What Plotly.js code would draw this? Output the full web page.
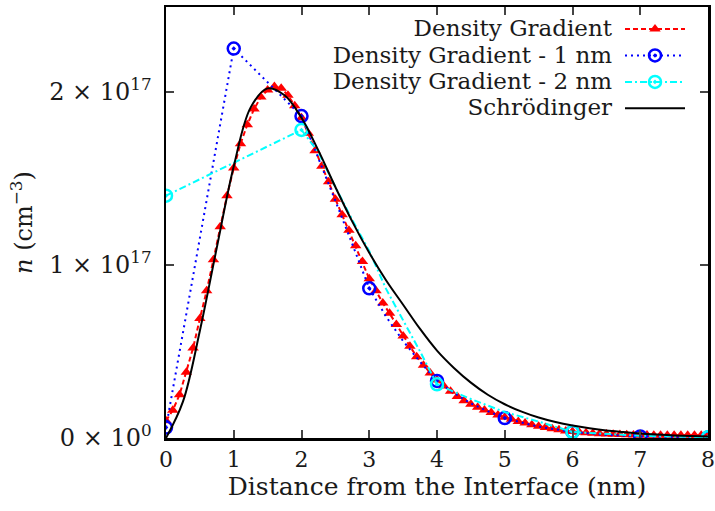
<!DOCTYPE html>
<html><head><meta charset="utf-8">
<script src="https://cdn.plot.ly/plotly-3.0.1.min.js"></script>
<style>html,body{margin:0;padding:0;background:#fff}#chart{width:715px;height:511px}</style>
</head><body><div id="chart"></div>
<script>
// Series names
const seriesNames = ["Density Gradient", "Density Gradient - 1 nm", "Density Gradient - 2 nm", "Schrödinger"];

// Density Gradient (units of 1e17 cm^-3)
const dgX = [0,0.1,0.2,0.3,0.4,0.5,0.6,0.7,0.8,0.9,1,1.1,1.2,1.3,1.4,1.5,1.6,1.7,1.8,1.9,2,2.1,2.2,2.3,2.4,2.5,2.6,2.7,2.8,2.9,3,3.1,3.2,3.3,3.4,3.5,3.6,3.7,3.8,3.9,4,4.1,4.2,4.3,4.4,4.5,4.6,4.7,4.8,4.9,5,5.1,5.2,5.3,5.4,5.5,5.6,5.7,5.8,5.9,6,6.1,6.2,6.3,6.4,6.5,6.6,6.7,6.8,6.9,7,7.1,7.2,7.3,7.4,7.5,7.6,7.7,7.8,7.9,8];
const dgY = [0.10,0.16,0.25,0.38,0.52,0.69,0.85,1.03,1.22,1.40,1.56,1.70,1.81,1.90,1.97,2.01,2.03,2.02,1.98,1.92,1.85,1.76,1.66,1.57,1.48,1.38,1.29,1.20,1.11,1.02,0.92,0.85,0.78,0.72,0.655,0.59,0.53,0.47,0.42,0.375,0.335,0.30,0.27,0.24,0.215,0.195,0.178,0.162,0.147,0.133,0.12,0.108,0.096,0.086,0.077,0.068,0.06,0.053,0.047,0.041,0.037,0.033,0.03,0.027,0.025,0.023,0.021,0.02,0.019,0.018,0.017,0.017,0.016,0.016,0.016,0.016,0.016,0.016,0.016,0.016,0.016];

// Density Gradient - 1 nm (markers at whole nm)
const dg1X = [0,1,2,2.25,2.5,2.75,3,3.25,3.5,3.75,4,4.25,4.5,4.75,5,5.5,6,6.5,7,7.5,8];
const dg1Y = [0.06,2.25,1.86,1.62,1.37,1.12,0.865,0.70,0.56,0.44,0.33,0.26,0.20,0.155,0.115,0.065,0.035,0.018,0.009,0.005,0.003];

// Density Gradient - 2 nm (markers every 2 nm)
const dg2X = [0,2,2.25,2.5,2.75,3,3.25,3.5,3.75,4,4.5,5,5.5,6,6.5,7,7.5,8];
const dg2Y = [1.40,1.78,1.65,1.45,1.26,1.08,0.86,0.68,0.50,0.31,0.225,0.15,0.095,0.035,0.022,0.013,0.008,0.005];

// Schrödinger
const schX = [0,0.25,0.5,0.75,1,1.25,1.5,1.75,2,2.25,2.5,2.75,3,3.25,3.5,3.75,4,4.25,4.5,4.75,5,5.25,5.5,5.75,6,6.25,6.5,6.75,7,7.25,7.5,7.75,8];
const schY = [0,0.21,0.62,1.10,1.57,1.91,2.02,1.98,1.85,1.66,1.45,1.25,1.07,0.91,0.77,0.63,0.505,0.405,0.32,0.25,0.195,0.152,0.118,0.092,0.072,0.056,0.043,0.034,0.026,0.02,0.015,0.011,0.008];

// Axis ticks
const xTickVals = [0,1,2,3,4,5,6,7,8];
const yTickVals = [0,1,2];
const yTickText = ["0 × 10<sup>0</sup>", "1 × 10<sup>17</sup>", "2 × 10<sup>17</sup>"];

const FONT = "DejaVu Serif";
const RED = "#ff0000", BLUE = "#0000ff", CYAN = "#00ffff", BLACK = "#000000";
const LEG_TEXT_RIGHT = 612, LEG_SYMBOL_CENTER = 655, LEG_LINE_LEN = 60;

const dg1MX = dg1X.filter(v => Number.isInteger(v));
const dg1MY = dg1Y.filter((v, i) => Number.isInteger(dg1X[i]));
const dg2MX = dg2X.filter(v => v % 2 === 0);
const dg2MY = dg2Y.filter((v, i) => dg2X[i] % 2 === 0);

const redLine = {width: 2, color: RED, dash: "5px,3px"};
const blueLine = {width: 2, color: BLUE, dash: "2px,4px"};
const cyanLine = {width: 2, color: CYAN, dash: "7px,3px,2px,3px"};
const blackLine = {width: 2, color: BLACK};
const redMarker = {symbol: "triangle-up", size: 10, color: RED};
const blueMarker = {symbol: "circle-open-dot", size: 12, color: BLUE, line: {width: 2.5, color: BLUE}};
const cyanMarker = {symbol: "circle-open-dot", size: 12, color: CYAN, line: {width: 2.5, color: CYAN}};

const legName = t => '<span style="font-size:23px">' + t + '</span>';

const traces = [
  {x: dgX, y: dgY, mode: "lines+markers", line: redLine, marker: redMarker, showlegend: false},
  {x: dg1X, y: dg1Y, mode: "lines", line: blueLine, showlegend: false},
  {x: dg1MX, y: dg1MY, mode: "markers", marker: blueMarker, showlegend: false},
  {x: dg2X, y: dg2Y, mode: "lines", line: cyanLine, showlegend: false},
  {x: dg2MX, y: dg2MY, mode: "markers", marker: cyanMarker, showlegend: false},
  {x: schX, y: schY, mode: "lines", line: Object.assign({shape: "spline", smoothing: 1}, blackLine), showlegend: false},
  // legend entries
  {x: [null], y: [null], mode: "lines+markers", line: redLine, marker: redMarker, name: legName(seriesNames[0]), showlegend: true},
  {x: [null], y: [null], mode: "lines+markers", line: blueLine, marker: blueMarker, name: legName(seriesNames[1]), showlegend: true},
  {x: [null], y: [null], mode: "lines+markers", line: cyanLine, marker: cyanMarker, name: legName(seriesNames[2]), showlegend: true},
  {x: [null], y: [null], mode: "lines", line: blackLine, name: legName(seriesNames[3]), showlegend: true}
];

const layout = {
  width: 715, height: 511,
  margin: {l: 166, r: 7, t: 7, b: 73},
  paper_bgcolor: "#fff", plot_bgcolor: "#fff",
  font: {family: FONT, size: 24, color: "#1a1a1a"},
  showlegend: true,
  legend: {x: 1, y: 0.991, xanchor: "right", yanchor: "top", bgcolor: "rgba(0,0,0,0)",
           font: {family: FONT, size: 18, color: "#1a1a1a"}, tracegroupgap: 0, itemwidth: 30},
  xaxis: {
    range: [0, 8], tickvals: xTickVals, ticks: "inside", ticklen: 8, tickwidth: 2,
    showline: true, linewidth: 2.5, linecolor: "#000", mirror: "allticks",
    showgrid: false, zeroline: false, tickfont: {family: FONT, size: 22}, ticklabeloverflow: "allow",
    title: {text: "Distance from the Interface (nm)", font: {family: FONT, size: 25}, standoff: 6}
  },
  yaxis: {
    range: [0, 2.49], tickvals: yTickVals, ticktext: yTickText, ticks: "inside", ticklen: 8, tickwidth: 2,
    showline: true, linewidth: 2.5, linecolor: "#000", mirror: "allticks",
    showgrid: false, zeroline: false, tickfont: {family: FONT, size: 24}, ticklabelstandoff: 7,
    title: {text: "<i>n</i> (cm<sup>−3</sup>)", font: {family: FONT, size: 24}, standoff: 10}
  }
};

// Put each legend label to the left of its sample, right-aligned (as in the reference)
function arrangeLegend(gd) {
  const scroll = gd.querySelector(".legend .scrollbox");
  if (scroll) scroll.removeAttribute("clip-path");
  const base = gd.getBoundingClientRect();
  gd.querySelectorAll(".legend .traces").forEach(item => {
    const ox = item.getScreenCTM().e - base.left;
    const layers = item.querySelector(".layers");
    if (layers) {
      const b0 = layers.getBBox();
      const c0 = b0.x + b0.width / 2;
      layers.querySelectorAll("path.js-line").forEach(p => {
        p.setAttribute("d", "M" + (c0 - LEG_LINE_LEN / 2) + ",0h" + LEG_LINE_LEN);
      });
      layers.setAttribute("transform", "translate(" + (LEG_SYMBOL_CENTER - ox - c0) + ",0)");
    }
    const txt = item.querySelector("text.legendtext");
    if (txt) {
      txt.setAttribute("text-anchor", "end");
      txt.setAttribute("x", LEG_TEXT_RIGHT - ox);
      txt.querySelectorAll("tspan.line").forEach(t => t.setAttribute("x", LEG_TEXT_RIGHT - ox));
    }
  });
}

Plotly.newPlot("chart", traces, layout, {staticPlot: true, displayModeBar: false}).then(arrangeLegend);
</script>
</body></html>
